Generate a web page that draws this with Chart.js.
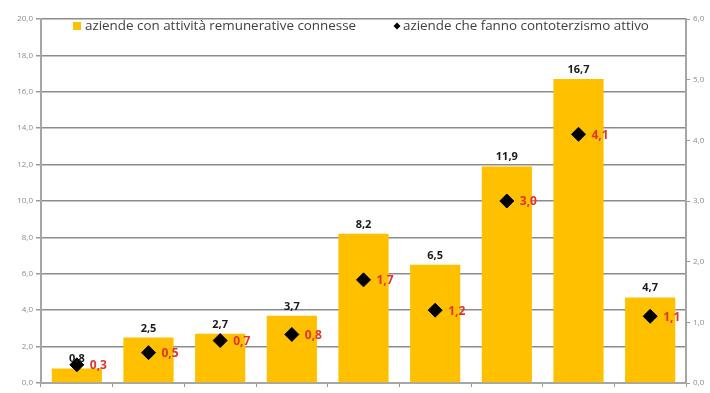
<!DOCTYPE html>
<html>
<head>
<meta charset="utf-8">
<script src="https://cdn.jsdelivr.net/npm/chart.js@4"></script>
<style>
  html, body { margin: 0; padding: 0; background: #fff; }
  #wrap { width: 710px; height: 393px; }
</style>
</head>
<body>
<div id="wrap"><canvas id="chart"></canvas></div>
<script>
const categorie = ["1", "2", "3", "4", "5", "6", "7", "8", "9"];
const remunerative = [0.8, 2.5, 2.7, 3.7, 8.2, 6.5, 11.9, 16.7, 4.7];
const contoterzismo = [0.3, 0.5, 0.7, 0.8, 1.7, 1.2, 3.0, 4.1, 1.1];
const tickSinistra = [0, 2, 4, 6, 8, 10, 12, 14, 16, 18, 20];
const tickDestra = [0, 1, 2, 3, 4, 5, 6];
const nomiSerie = ["aziende con attività remunerative connesse", "aziende che fanno contoterzismo attivo"];

const GIALLO = '#FFC000';
const virgola = v => v.toFixed(1).replace('.', ',');

// etichette con i valori + legenda dentro l'area del grafico
const etichette = {
  id: 'etichette',
  afterDatasetsDraw(chart) {
    const ctx = chart.ctx;
    ctx.save();
    ctx.textBaseline = 'alphabetic';

    const barre = chart.getDatasetMeta(0).data;
    ctx.font = 'bold 11px "Open Sans"';
    ctx.fillStyle = '#1a1a1a';
    ctx.textAlign = 'center';
    barre.forEach((b, i) => {
      ctx.fillText(virgola(remunerative[i]), b.x, b.y - 6);
    });

    const punti = chart.getDatasetMeta(1).data;
    ctx.font = 'bold 12px "Open Sans"';
    ctx.fillStyle = '#e3342a';
    ctx.textAlign = 'left';
    ctx.textBaseline = 'middle';
    punti.forEach((p, i) => {
      ctx.fillText(virgola(contoterzismo[i]), p.x + 13, p.y + 1);
    });

    // legenda
    ctx.font = '13.4px "Open Sans"';
    ctx.fillStyle = GIALLO;
    ctx.fillRect(73, 22, 8, 8);
    ctx.fillStyle = '#404040';
    ctx.fillText(nomiSerie[0], 85, 26);

    ctx.fillStyle = '#000';
    ctx.beginPath();
    ctx.moveTo(397, 22.5);
    ctx.lineTo(400.5, 26);
    ctx.lineTo(397, 29.5);
    ctx.lineTo(393.5, 26);
    ctx.closePath();
    ctx.fill();
    ctx.fillStyle = '#404040';
    ctx.fillText(nomiSerie[1], 403, 26);
    ctx.restore();
  }
};

new Chart(document.getElementById('chart'), {
  data: {
    labels: categorie,
    datasets: [
      {
        type: 'bar',
        label: nomiSerie[0],
        data: remunerative,
        backgroundColor: GIALLO,
        barPercentage: 0.7,
        categoryPercentage: 1.0,
        yAxisID: 'y',
        order: 2
      },
      {
        type: 'line',
        label: nomiSerie[1],
        data: contoterzismo,
        showLine: false,
        pointStyle: 'rectRot',
        pointRadius: 7,
        backgroundColor: '#000',
        borderColor: '#000',
        yAxisID: 'y1',
        order: 1
      }
    ]
  },
  options: {
    responsive: true,
    maintainAspectRatio: false,
    animation: false,
    layout: { padding: { top: 19, left: 0, right: 0, bottom: 0 } },
    plugins: {
      legend: { display: false },
      tooltip: { enabled: false }
    },
    scales: {
      x: {
        offset: true,
        grid: {
          offset: true,
          drawOnChartArea: false,
          drawTicks: true,
          tickLength: 4,
          color: '#9a9a9a'
        },
        border: { color: '#a6a6a6', width: 2 },
        ticks: { display: false },
        afterFit(s) { s.height = 10; }
      },
      y: {
        position: 'left',
        min: 0,
        max: 20,
        afterBuildTicks(s) { s.ticks = tickSinistra.map(v => ({ value: v })); },
        grid: {
          color: '#8c8c8c',
          lineWidth: 1.5,
          tickLength: 5,
          tickColor: '#9a9a9a'
        },
        border: { color: '#a6a6a6', width: 2 },
        ticks: {
          font: { family: '"Open Sans"', size: 8 },
          color: '#8c8c8c',
          padding: 3,
          callback: v => virgola(v)
        },
        afterFit(s) { s.width = 41; }
      },
      y1: {
        position: 'right',
        min: 0,
        max: 6,
        afterBuildTicks(s) { s.ticks = tickDestra.map(v => ({ value: v })); },
        grid: {
          drawOnChartArea: false,
          tickLength: 4,
          tickColor: '#9a9a9a'
        },
        border: { color: '#a6a6a6', width: 2 },
        ticks: {
          font: { family: '"Open Sans"', size: 8 },
          color: '#8c8c8c',
          padding: 3,
          callback: v => virgola(v)
        },
        afterFit(s) { s.width = 24; }
      }
    }
  },
  plugins: [etichette]
});
</script>
</body>
</html>
